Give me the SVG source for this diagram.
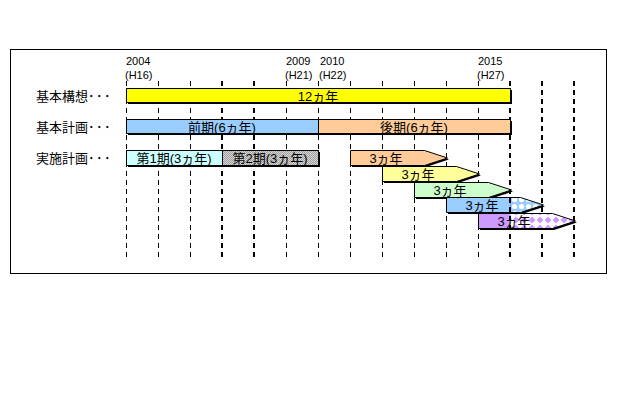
<svg xmlns="http://www.w3.org/2000/svg" width="640" height="400" viewBox="0 0 640 400">
<defs>
<style>
.t{font-family:'Liberation Sans','Noto Sans CJK JP',sans-serif;fill:#000}
.yr{font-size:11px}
.lb{font-size:13px}
.dt{letter-spacing:1.5px}
.bt{font-size:13px;text-anchor:middle}
.bx{stroke:#000;stroke-width:1}
.sh{fill:#000}
.g{stroke:#000;stroke-width:1;stroke-dasharray:5,4;fill:none}
.gk{stroke:#000;stroke-width:2;stroke-dasharray:5,4;fill:none}
</style>
<pattern id="pGray" width="2" height="2" patternUnits="userSpaceOnUse">
<rect width="2" height="2" fill="#d4d4d4"/>
<rect width="1" height="1" fill="#a0a0a0"/>
<rect x="1" y="1" width="1" height="1" fill="#a0a0a0"/>
</pattern>
<pattern id="pCirc" width="7" height="7" patternUnits="userSpaceOnUse">
<rect width="7" height="7" fill="#99CCFF"/>
<circle cx="3.5" cy="3.5" r="2.6" fill="#ffffff"/>
</pattern>
<pattern id="pDia" width="8" height="8" patternUnits="userSpaceOnUse">
<rect width="8" height="8" fill="#ffffff"/>
<polygon points="4,0.5 7.5,4 4,7.5 0.5,4" fill="#CC99FF"/>
</pattern>
</defs>
<rect width="640" height="400" fill="#ffffff"/>
<rect x="10.5" y="49.5" width="596" height="224" fill="#ffffff" stroke="#000" stroke-width="1"/>

<g id="years" class="t yr">
<text x="126" y="65">2004</text><text x="125" y="78.5">(H16)</text>
<text x="286" y="65">2009</text><text x="285" y="78.5">(H21)</text>
<text x="320" y="65">2010</text><text x="319" y="78.5">(H22)</text>
<text x="478" y="65">2015</text><text x="477" y="78.5">(H27)</text>
</g>

<g id="labels" class="t lb">
<text x="36" y="100.5">基本構想<tspan class="dt">･･･</tspan></text>
<text x="36" y="131.5">基本計画<tspan class="dt">･･･</tspan></text>
<text x="36" y="163">実施計画<tspan class="dt">･･･</tspan></text>
</g>

<g id="grid">
<path class="g" d="M126.5 81V258M158.5 81V258M190.5 81V258M286.5 81V258M318.5 81V258M350.5 81V258M382.5 81V258M414.5 81V258M446.5 81V258M478.5 81V258"/>
<path class="gk" d="M222 81V258M254 81V258M510 81V258M542 81V258M574 81V258"/>
</g>

<g id="kihon-koso">
<rect class="sh" x="128" y="90" width="384" height="14"/>
<rect class="bx" x="126.5" y="88.5" width="384" height="14" fill="#FFFF00"/>
<text class="t bt" x="318" y="100.5">12ヵ年</text>
</g>

<g id="zenki">
<rect class="sh" x="128" y="121" width="192" height="14"/>
<rect class="bx" x="126.5" y="119.5" width="192" height="14" fill="#99CCFF"/>
<text class="t bt" x="222" y="131.5">前期(6ヵ年)</text>
</g>
<g id="kouki">
<rect class="sh" x="320" y="121" width="192" height="14"/>
<rect class="bx" x="318.5" y="119.5" width="192" height="14" fill="#FFCC99"/>
<text class="t bt" x="414" y="131.5">後期(6ヵ年)</text>
</g>

<g id="dai1ki">
<rect class="sh" x="128" y="152" width="96" height="15"/>
<rect class="bx" x="126.5" y="150.5" width="96" height="15" fill="#CCFFFF"/>
<text class="t bt" x="174" y="163">第1期(3ヵ年)</text>
</g>
<g id="dai2ki">
<rect class="sh" x="224" y="152" width="96" height="15"/>
<rect class="bx" x="222.5" y="150.5" width="96" height="15" fill="url(#pGray)"/>
<text class="t bt" x="270" y="163">第2期(3ヵ年)</text>
</g>

<g id="arrow1">
<polygon class="sh" points="352,152 426,152 449,159.5 426,167 352,167"/>
<polygon class="bx" points="350.5,150.5 424.5,150.5 447.5,158 424.5,165.5 350.5,165.5" fill="#FFCC99"/>
<text class="t bt" x="386" y="163">3ヵ年</text>
</g>
<g id="arrow2">
<polygon class="sh" points="384,168 458,168 481,175.5 458,183 384,183"/>
<polygon class="bx" points="382.5,166.5 456.5,166.5 479.5,174 456.5,181.5 382.5,181.5" fill="#FFFF99"/>
<text class="t bt" x="418" y="179">3ヵ年</text>
</g>
<g id="arrow3">
<polygon class="sh" points="416,184 490,184 513,191.5 490,199 416,199"/>
<polygon class="bx" points="414.5,182.5 488.5,182.5 511.5,190 488.5,197.5 414.5,197.5" fill="#CCFFCC"/>
<text class="t bt" x="450" y="195">3ヵ年</text>
</g>
<g id="arrow4">
<polygon class="sh" points="448,199 522,199 545,206.5 522,214 448,214"/>
<rect x="446.5" y="197.5" width="64" height="15" fill="#99CCFF"/>
<polygon points="510.5,197.5 520.5,197.5 543.5,205 520.5,212.5 510.5,212.5" fill="url(#pCirc)"/>
<polygon class="bx" points="446.5,197.5 520.5,197.5 543.5,205 520.5,212.5 446.5,212.5" fill="none"/>
<text class="t bt" x="482" y="210">3ヵ年</text>
</g>
<g id="arrow5">
<polygon class="sh" points="480,215 554,215 577,222.5 554,230 480,230"/>
<rect x="478.5" y="213.5" width="32" height="15" fill="#CC99FF"/>
<polygon points="510.5,213.5 552.5,213.5 575.5,221 552.5,228.5 510.5,228.5" fill="url(#pDia)"/>
<polygon class="bx" points="478.5,213.5 552.5,213.5 575.5,221 552.5,228.5 478.5,228.5" fill="none"/>
<text class="t bt" x="514" y="226">3ヵ年</text>
</g>

<g id="grid-overlay">
<path class="gk" d="M510 169V232" stroke-dashoffset="7"/>
</g>
</svg>
